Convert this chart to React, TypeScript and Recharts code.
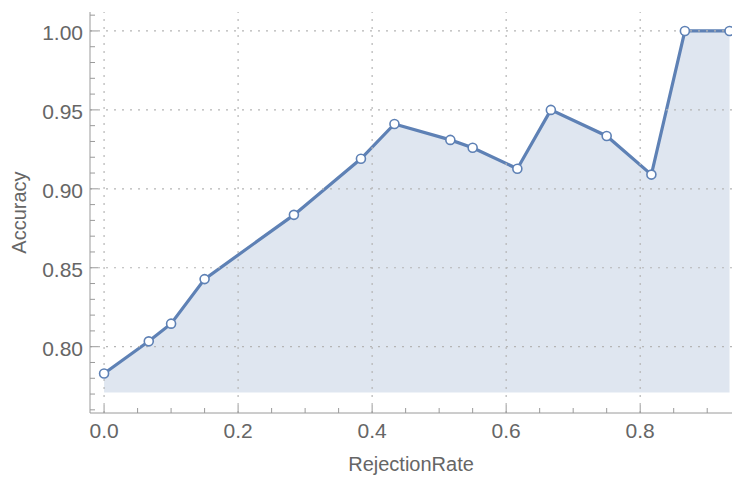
import React from 'react';
import { ComposedChart, Area, XAxis, YAxis, ReferenceLine } from 'recharts';

const rejectionRate = [0, 0.0667, 0.1, 0.15, 0.2833, 0.3833, 0.4333, 0.5167, 0.55, 0.6167, 0.6667, 0.75, 0.8167, 0.8667, 0.9333];
const accuracy = [0.783, 0.8034, 0.8146, 0.8428, 0.8835, 0.919, 0.9411, 0.931, 0.926, 0.9127, 0.95, 0.9335, 0.909, 1.0, 1.0];

const xMajorTicks = [0, 0.2, 0.4, 0.6, 0.8];
const xAllTicks = [0, 0.05, 0.1, 0.15, 0.2, 0.25, 0.3, 0.35, 0.4, 0.45, 0.5, 0.55, 0.6, 0.65, 0.7, 0.75, 0.8, 0.85, 0.9];
const yMajorTicks = [0.8, 0.85, 0.9, 0.95, 1.0];
const yAllTicks = [0.76, 0.77, 0.78, 0.79, 0.8, 0.81, 0.82, 0.83, 0.84, 0.85, 0.86, 0.87, 0.88, 0.89, 0.9, 0.91, 0.92, 0.93, 0.94, 0.95, 0.96, 0.97, 0.98, 0.99, 1.0, 1.01];

const fillBase = 0.771;
const xDomain: [number, number] = [-0.021, 0.937];
const yDomain: [number, number] = [0.758, 1.012];

const data = rejectionRate.map((x, i) => ({ x, y: accuracy[i] }));

const W = 734;
const H = 477;
const PL = 90;
const PR = 732;
const PT = 12;
const PB = 413;

const LINE = '#5e81b5';
const FRAME = '#9a9a9a';
const TEXT = '#666666';
const FONT = '"Liberation Sans", Arial, sans-serif';
const TICK_FS = 21;
const LABEL_FS = 20;

const isIn = (v: number, arr: number[]) => arr.some((a) => Math.abs(a - v) < 1e-9);

const BottomTick = (props: any) => {
  const { x, payload } = props;
  const v = payload.value as number;
  const major = isIn(v, xMajorTicks);
  return (
    <g>
      <line x1={x} x2={x} y1={PB} y2={PB - (major ? 8 : 5)} stroke={FRAME} strokeWidth={1} />
      {major && (
        <text x={x} y={PB + 25} textAnchor="middle" fill={TEXT} fontSize={TICK_FS} fontFamily={FONT}>
          {v.toFixed(1)}
        </text>
      )}
    </g>
  );
};

const TopTick = (props: any) => {
  const { x, payload } = props;
  const major = isIn(payload.value, xMajorTicks);
  return <line x1={x} x2={x} y1={PT} y2={PT + (major ? 8 : 5)} stroke={FRAME} strokeWidth={1} />;
};

const LeftTick = (props: any) => {
  const { y, payload } = props;
  const v = payload.value as number;
  const major = isIn(v, yMajorTicks);
  return (
    <g>
      <line x1={PL} x2={PL + (major ? 8 : 5)} y1={y} y2={y} stroke={FRAME} strokeWidth={1} />
      {major && (
        <text x={PL - 7} y={y + 9} textAnchor="end" fill={TEXT} fontSize={TICK_FS} fontFamily={FONT}>
          {v.toFixed(2)}
        </text>
      )}
    </g>
  );
};

const RightTick = (props: any) => {
  const { y, payload } = props;
  const major = isIn(payload.value, yMajorTicks);
  return <line x1={PR} x2={PR - (major ? 8 : 5)} y1={y} y2={y} stroke={FRAME} strokeWidth={1} />;
};

export default function App() {
  return (
    <div style={{ position: 'absolute', left: 0, top: 0, width: W, height: H, background: '#fff' }}>
      <ComposedChart width={W} height={H} data={data} margin={{ top: PT, right: W - PR, bottom: 0, left: 0 }}>
        <XAxis
          xAxisId="b"
          dataKey="x"
          type="number"
          domain={xDomain}
          ticks={xAllTicks}
          interval={0}
          tick={<BottomTick />}
          tickLine={false}
          axisLine={{ stroke: FRAME }}
          height={H - PB}
          allowDataOverflow
          label={{ value: 'RejectionRate', position: 'insideBottom', offset: 6, fill: TEXT, fontSize: LABEL_FS, fontFamily: FONT }}
        />
        <XAxis
          xAxisId="t"
          orientation="top"
          dataKey="x"
          type="number"
          domain={xDomain}
          ticks={xAllTicks}
          interval={0}
          tick={<TopTick />}
          tickLine={false}
          axisLine={{ stroke: FRAME }}
          height={0}
          allowDataOverflow
        />
        <YAxis
          yAxisId="l"
          type="number"
          domain={yDomain}
          ticks={yAllTicks}
          interval={0}
          tick={<LeftTick />}
          tickLine={false}
          axisLine={{ stroke: FRAME }}
          width={PL}
          allowDataOverflow
          label={{ value: 'Accuracy', angle: -90, position: 'insideLeft', offset: 0, dx: 19, fill: TEXT, fontSize: LABEL_FS, fontFamily: FONT, style: { textAnchor: 'middle' } }}
        />
        <YAxis
          yAxisId="r"
          orientation="right"
          type="number"
          domain={yDomain}
          ticks={yAllTicks}
          interval={0}
          tick={<RightTick />}
          tickLine={false}
          axisLine={{ stroke: FRAME }}
          width={0}
          allowDataOverflow
        />
        {xMajorTicks.map((v) => (
          <ReferenceLine key={'gx' + v} x={v} xAxisId="b" yAxisId="l" stroke="#b5b5b5" strokeDasharray="2 6" strokeWidth={1.2} />
        ))}
        {yMajorTicks.map((v) => (
          <ReferenceLine key={'gy' + v} y={v} xAxisId="b" yAxisId="l" stroke="#b5b5b5" strokeDasharray="2 6" strokeWidth={1.2} />
        ))}
        <Area
          xAxisId="b"
          yAxisId="l"
          type="linear"
          dataKey="y"
          baseValue={fillBase}
          stroke={LINE}
          strokeWidth={3.2}
          fill={LINE}
          fillOpacity={0.2}
          dot={{ r: 4.5, fill: '#ffffff', stroke: LINE, strokeWidth: 1.6, fillOpacity: 1 }}
          activeDot={false}
          isAnimationActive={false}
        />
      </ComposedChart>
    </div>
  );
}
